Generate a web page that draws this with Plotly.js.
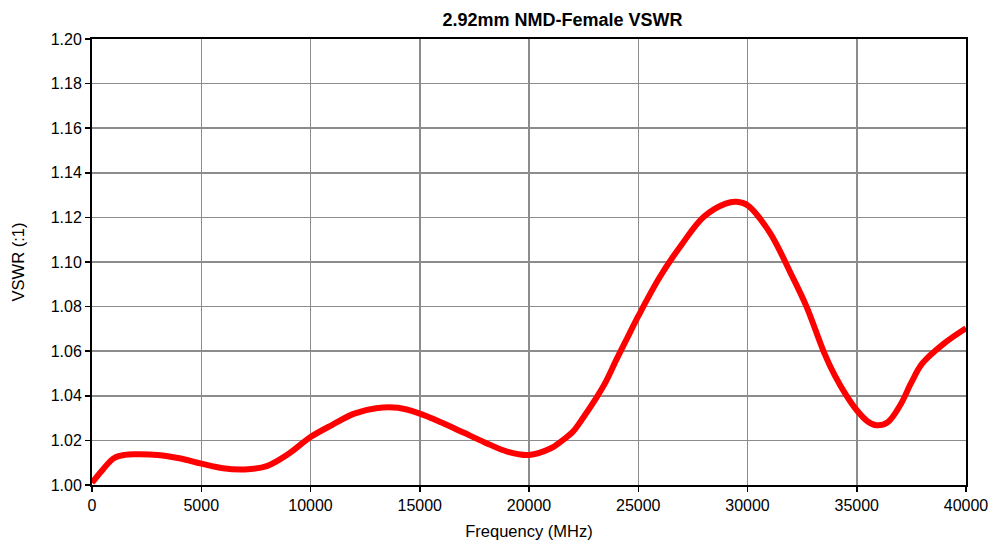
<!DOCTYPE html>
<html>
<head>
<meta charset="utf-8">
<script src="https://cdn.plot.ly/plotly-3.0.1.min.js"></script>
<style>html,body{margin:0;padding:0;background:#fff;}#chart{width:992px;height:542px;}</style>
</head>
<body>
<div id="chart"></div>
<script>
const freqMHz = [0, 500, 1000, 1500, 2000, 3000, 4000, 5000, 6000, 7000, 8000, 9000, 10000, 11000, 12000, 13000, 14000, 15000, 16000, 17000, 18000, 19000, 20000, 21000, 21500, 22000, 22500, 23000, 23500, 24000, 24500, 25000, 26000, 27000, 28000, 29000, 29500, 30000, 31000, 32000, 32700, 33500, 34000, 34500, 35000, 35500, 35900, 36400, 37000, 37500, 38000, 39000, 40000];
const vswr = [1.001, 1.007, 1.012, 1.0135, 1.0138, 1.0135, 1.012, 1.0096, 1.0075, 1.007, 1.0085, 1.014, 1.0215, 1.027, 1.032, 1.0344, 1.0346, 1.032, 1.028, 1.0235, 1.019, 1.015, 1.0135, 1.0165, 1.0198, 1.0238, 1.0305, 1.0378, 1.046, 1.0562, 1.066, 1.0757, 1.0935, 1.108, 1.1203, 1.1262, 1.127, 1.1255, 1.1135, 1.0945, 1.080, 1.0595, 1.049, 1.0405, 1.0335, 1.0285, 1.0268, 1.028, 1.036, 1.046, 1.0545, 1.0635, 1.0703];
const xTicks = [0, 5000, 10000, 15000, 20000, 25000, 30000, 35000, 40000];
const yTicks = [1.00, 1.02, 1.04, 1.06, 1.08, 1.10, 1.12, 1.14, 1.16, 1.18, 1.20];

const trace = {
  x: freqMHz, y: vswr, type: 'scatter', mode: 'lines',
  line: {color: '#ff0000', width: 6, shape: 'spline', smoothing: 1},
  hoverinfo: 'skip'
};
const fontFam = 'Liberation Sans, Arial, sans-serif';
const layout = {
  width: 992, height: 542,
  margin: {l: 92, r: 26, t: 39, b: 57},
  paper_bgcolor: '#fff', plot_bgcolor: '#fff',
  showlegend: false,
  font: {family: fontFam, size: 16, color: '#000'},
  title: {text: '<b>2.92mm NMD-Female VSWR</b>', x: 0.567, xanchor: 'center', y: 0.963, yanchor: 'middle', font: {family: fontFam, size: 18, color: '#000'}},
  xaxis: {
    range: [0, 40000], tickvals: xTicks, ticktext: xTicks.map(String),
    showgrid: true, gridcolor: '#8c8c8c', gridwidth: 1.5,
    showline: true, linecolor: '#000', linewidth: 2, mirror: true,
    ticks: 'outside', ticklen: 5, tickwidth: 1.5, tickcolor: '#000',
    zeroline: false, tickfont: {size: 16},
    title: {text: 'Frequency (MHz)', font: {size: 16.5}, standoff: 12}
  },
  yaxis: {
    range: [1.00, 1.20], tickvals: yTicks, ticktext: yTicks.map(v => v.toFixed(2)),
    showgrid: true, gridcolor: '#8c8c8c', gridwidth: 1.5,
    showline: true, linecolor: '#000', linewidth: 2, mirror: true,
    ticks: 'outside', ticklen: 5, tickwidth: 1.5, tickcolor: '#000',
    zeroline: false, tickfont: {size: 16},
    title: {text: 'VSWR (:1)', font: {size: 16.5}, standoff: 22}
  }
};
Plotly.newPlot('chart', [trace], layout, {staticPlot: true, displayModeBar: false});
</script>
</body>
</html>
